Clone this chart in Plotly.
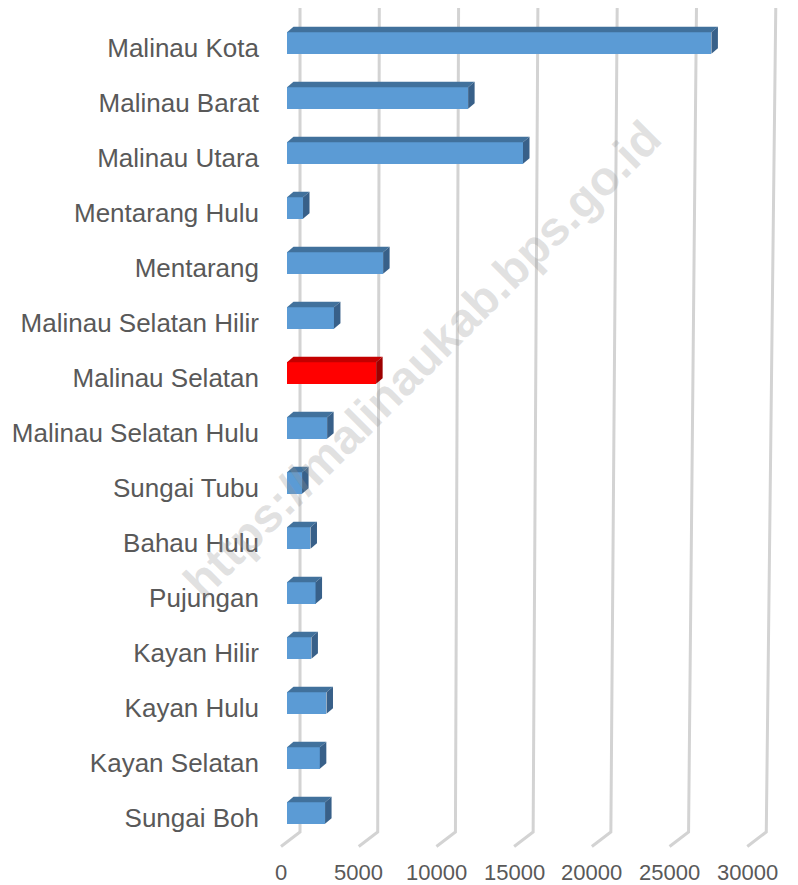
import plotly.graph_objects as go

# population by kecamatan
kecamatan = ['Malinau Kota', 'Malinau Barat', 'Malinau Utara', 'Mentarang Hulu',
             'Mentarang', 'Malinau Selatan Hilir', 'Malinau Selatan',
             'Malinau Selatan Hulu', 'Sungai Tubu', 'Bahau Hulu', 'Pujungan',
             'Kayan Hilir', 'Kayan Hulu', 'Kayan Selatan', 'Sungai Boh']
penduduk = [26760, 11420, 14880, 1010, 6060, 2960, 5620,
            2530, 950, 1480, 1800, 1540, 2490, 2070, 2400]
highlight = 'Malinau Selatan'
x_ticks = [0, 5000, 10000, 15000, 20000, 25000, 30000]

FONT = 'Liberation Sans, Arial, sans-serif'
TEXT_COLOR = '#595959'

# pseudo 3D geometry (in axis units)
BAR_H = 0.395       # front face height, category units
DX = 410            # depth offset of bar, value units
DY = 0.1            # depth offset of bar, category units
BACK_OFF = 820      # back wall offset from bar front plane
FRONT_OFF = -378    # floor front edge offset
SHRINK = 0.98       # slight perspective at the floor
GRID_TOP = -0.69
FLOOR_BACK = 14.345
FLOOR_FRONT = 14.61
LABEL_Y = 15.09

idx = list(range(len(kecamatan)))

front_colors = ['#FF0000' if k == highlight else '#5B9BD5' for k in kecamatan]
top_colors = ['#C40000' if k == highlight else '#41719C' for k in kecamatan]
side_colors = ['#9E0000' if k == highlight else '#386089' for k in kecamatan]

fig = go.Figure()

fig.add_trace(go.Bar(
    x=penduduk, y=idx, orientation='h', width=BAR_H, base=0,
    marker=dict(color=front_colors, line=dict(width=0)),
    hovertext=kecamatan, hoverinfo='text+x',
))

shapes = []

# gridlines on the back wall, with the floor part running to the front
for v in x_ticks:
    path = (f'M {v + BACK_OFF},{GRID_TOP} L {v * SHRINK + BACK_OFF},{FLOOR_BACK} '
            f'L {v * SHRINK + FRONT_OFF},{FLOOR_FRONT}')
    shapes.append(dict(type='path', path=path, xref='x', yref='y', layer='below',
                       line=dict(color='#D3D3D3', width=3)))

# top and side faces of the bars
for i, v in enumerate(penduduk):
    y_top = i - BAR_H / 2
    y_bot = i + BAR_H / 2
    top = (f'M 0,{y_top} L {v},{y_top} L {v + DX},{y_top - DY} '
           f'L {DX},{y_top - DY} Z')
    side = (f'M {v},{y_top} L {v + DX},{y_top - DY} L {v + DX},{y_bot - DY} '
            f'L {v},{y_bot} Z')
    shapes.append(dict(type='path', path=top, xref='x', yref='y', layer='above',
                       fillcolor=top_colors[i], line=dict(width=0)))
    shapes.append(dict(type='path', path=side, xref='x', yref='y', layer='above',
                       fillcolor=side_colors[i], line=dict(width=0)))

annotations = []
for v in x_ticks:
    annotations.append(dict(x=v * SHRINK + FRONT_OFF, y=LABEL_Y, xref='x', yref='y',
                            text=str(v), showarrow=False,
                            font=dict(family=FONT, size=22, color=TEXT_COLOR)))

annotations.append(dict(x=0.288, y=0.599, xref='paper', yref='paper',
                        xanchor='center', yanchor='middle',
                        text='<b>https://malinaukab.bps.go.id</b>', showarrow=False,
                        textangle=-45,
                        font=dict(family=FONT, size=48, color='rgba(150,150,150,0.28)')))

# page body has an 8px margin, so the figure is 8px smaller than the window
fig.update_layout(
    width=790, height=877,
    margin=dict(l=262, r=0, t=0, b=0),
    paper_bgcolor='white', plot_bgcolor='white',
    showlegend=False,
    bargap=0,
    shapes=shapes,
    annotations=annotations,
    xaxis=dict(range=[-1072, 32220], showgrid=False, zeroline=False,
               showticklabels=False, showline=False, fixedrange=True),
    yaxis=dict(range=[15.309, -0.6365], showgrid=False, zeroline=False,
               tickvals=[i + 0.09 for i in idx], ticktext=kecamatan,
               ticks='', ticklabelstandoff=10,
               tickfont=dict(family=FONT, size=26, color=TEXT_COLOR),
               showline=False, fixedrange=True),
)

fig.write_html('out.html')
